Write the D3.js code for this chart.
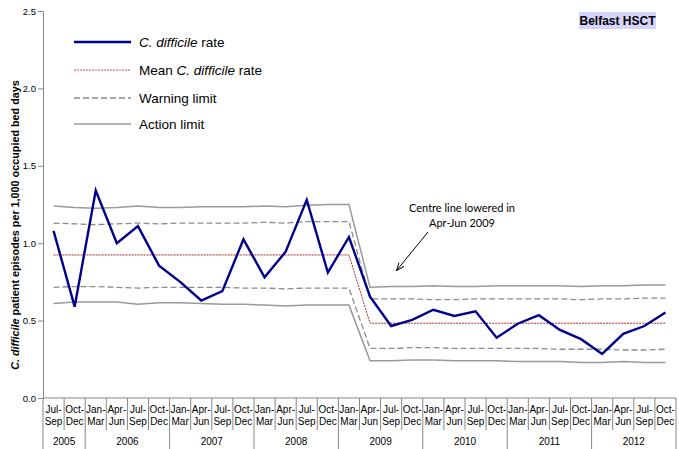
<!DOCTYPE html>
<html>
<head>
<meta charset="utf-8">
<script src="https://cdn.jsdelivr.net/npm/d3@7"></script>
<style>
  body { margin: 0; background: #fff; }
  svg { display: block; font-family: "Liberation Sans", Arial, sans-serif; }
</style>
</head>
<body>
<svg id="chart" width="679" height="449"></svg>
<script>
// ---------------- data ----------------
const quarterTop    = ["Jul-","Oct-","Jan-","Apr-","Jul-","Oct-","Jan-","Apr-","Jul-","Oct-","Jan-","Apr-","Jul-","Oct-","Jan-","Apr-","Jul-","Oct-","Jan-","Apr-","Jul-","Oct-","Jan-","Apr-","Jul-","Oct-","Jan-","Apr-","Jul-","Oct-"];
const quarterBottom = ["Sep","Dec","Mar","Jun","Sep","Dec","Mar","Jun","Sep","Dec","Mar","Jun","Sep","Dec","Mar","Jun","Sep","Dec","Mar","Jun","Sep","Dec","Mar","Jun","Sep","Dec","Mar","Jun","Sep","Dec"];
const years      = ["2005","2006","2007","2008","2009","2010","2011","2012"];
const yearCounts = [2,4,4,4,4,4,4,4];

const rate = [1.08,0.59,1.34,1.00,1.11,0.855,0.75,0.63,0.69,1.025,0.78,0.945,1.28,0.81,1.04,
              0.655,0.465,0.505,0.57,0.53,0.56,0.39,0.48,0.535,0.44,0.38,0.285,0.415,0.465,0.553];
const meanRate = [0.924,0.924,0.924,0.924,0.924,0.924,0.924,0.924,0.924,0.924,0.924,0.924,0.924,0.924,0.924,
                  0.483,0.483,0.483,0.483,0.483,0.483,0.483,0.483,0.483,0.483,0.483,0.483,0.483,0.483,0.483];
const warnUpper = [1.13,1.125,1.12,1.125,1.13,1.125,1.13,1.13,1.13,1.13,1.135,1.13,1.14,1.14,1.14,
                   0.64,0.64,0.64,0.635,0.635,0.64,0.64,0.64,0.64,0.64,0.635,0.64,0.64,0.645,0.645];
const warnLower = [0.715,0.72,0.72,0.715,0.71,0.715,0.715,0.715,0.715,0.71,0.71,0.705,0.71,0.71,0.71,
                   0.32,0.32,0.325,0.325,0.32,0.32,0.32,0.32,0.32,0.315,0.315,0.315,0.31,0.31,0.315];
const actUpper  = [1.24,1.23,1.225,1.23,1.24,1.23,1.23,1.235,1.235,1.235,1.24,1.235,1.245,1.25,1.25,
                   0.715,0.72,0.72,0.725,0.72,0.72,0.725,0.725,0.725,0.725,0.72,0.725,0.725,0.73,0.73];
const actLower  = [0.61,0.62,0.62,0.62,0.605,0.615,0.615,0.61,0.605,0.605,0.60,0.595,0.60,0.60,0.60,
                   0.24,0.24,0.245,0.245,0.24,0.24,0.24,0.235,0.235,0.235,0.23,0.23,0.235,0.23,0.23];
const yTicks = [0.0,0.5,1.0,1.5,2.0,2.5];

// ---------------- layout ----------------
const svg = d3.select("#chart");
const plotLeft = 43, plotRight = 676, plotTop = 11, plotBottom = 398;
const idx = d3.range(rate.length);
const x = d3.scaleBand().domain(idx).range([plotLeft, plotRight]).paddingInner(0).paddingOuter(0);
const y = d3.scaleLinear().domain([0, 2.5]).range([plotBottom, plotTop]);
const cx = i => x(i) + x.bandwidth() / 2;
const axisColor = "#868686";

// y axis
const yAxis = d3.axisLeft(y).tickValues(yTicks).tickFormat(d3.format(".1f")).tickSize(5).tickSizeOuter(0);
const gy = svg.append("g").attr("transform", `translate(${plotLeft},0)`).call(yAxis);
gy.select(".domain").attr("stroke", axisColor);
gy.selectAll(".tick line").attr("stroke", axisColor);
gy.selectAll(".tick text").attr("font-size", 9.5).attr("fill", "#000").attr("font-family", "Liberation Sans, Arial, sans-serif").attr("x", -7);

// x axis line
svg.append("line").attr("x1", plotLeft).attr("x2", plotRight).attr("y1", plotBottom).attr("y2", plotBottom)
  .attr("stroke", axisColor);

// quarter separators
const yearStarts = [];
let acc = 0;
yearCounts.forEach(c => { yearStarts.push(acc); acc += c; });
idx.forEach(i => {
  const isYear = yearStarts.includes(i);
  svg.append("line").attr("x1", x(i)).attr("x2", x(i)).attr("y1", plotBottom).attr("y2", isYear ? 449 : 430)
    .attr("stroke", axisColor);
});
svg.append("line").attr("x1", plotRight).attr("x2", plotRight).attr("y1", plotBottom).attr("y2", 449).attr("stroke", axisColor);

// quarter labels
const ql = svg.append("g").attr("font-size", 10).attr("text-anchor", "middle").attr("fill", "#000");
idx.forEach(i => {
  ql.append("text").attr("x", cx(i)).attr("y", 413).text(quarterTop[i]);
  ql.append("text").attr("x", cx(i)).attr("y", 425).text(quarterBottom[i]);
});
// year labels
years.forEach((yr, k) => {
  const s = yearStarts[k], e = s + yearCounts[k] - 1;
  const mid = (x(s) + x(e) + x.bandwidth()) / 2;
  svg.append("text").attr("x", mid).attr("y", 445).attr("font-size", 10).attr("text-anchor", "middle").text(yr);
});

// y axis title
const yt = svg.append("text").attr("transform", "translate(19,225) rotate(-90)")
  .attr("text-anchor", "middle").attr("font-size", 10.8).attr("font-weight", "bold");
yt.append("tspan").attr("font-style", "italic").text("C. difficile");
yt.append("tspan").text(" patient episodes per 1,000 occupied bed days");

// ---------------- lines ----------------
const line = arr => d3.line().x((d, i) => cx(i)).y(d => y(d))(arr);

svg.append("path").attr("d", line(actUpper)).attr("fill", "none").attr("stroke", "#9a9a9a").attr("stroke-width", 1.5);
svg.append("path").attr("d", line(actLower)).attr("fill", "none").attr("stroke", "#9a9a9a").attr("stroke-width", 1.5);
svg.append("path").attr("d", line(warnUpper)).attr("fill", "none").attr("stroke", "#8c8c8c").attr("stroke-width", 1.3).attr("stroke-dasharray", "6,3");
svg.append("path").attr("d", line(warnLower)).attr("fill", "none").attr("stroke", "#8c8c8c").attr("stroke-width", 1.3).attr("stroke-dasharray", "6,3");
svg.append("path").attr("d", line(meanRate)).attr("fill", "none").attr("stroke", "#a52a2a").attr("stroke-width", 1).attr("stroke-dasharray", "2,1");
svg.append("path").attr("d", line(rate)).attr("fill", "none").attr("stroke", "#00008b").attr("stroke-width", 2.4).attr("stroke-linejoin", "miter");

// ---------------- legend ----------------
const lg = svg.append("g").attr("font-size", 13.5).attr("fill", "#000");
const legendItems = [
  {y: 42, stroke: "#00008b", w: 2.4, dash: null, parts: [["C. difficile", true], [" rate", false]]},
  {y: 70, stroke: "#c0504d", w: 1, dash: "2,1", parts: [["Mean ", false], ["C. difficile", true], [" rate", false]]},
  {y: 98, stroke: "#8c8c8c", w: 1.3, dash: "6,3", parts: [["Warning limit", false]]},
  {y: 124, stroke: "#9a9a9a", w: 1.5, dash: null, parts: [["Action limit", false]]}
];
legendItems.forEach(it => {
  lg.append("line").attr("x1", 74).attr("x2", 131).attr("y1", it.y).attr("y2", it.y)
    .attr("stroke", it.stroke).attr("stroke-width", it.w).attr("stroke-dasharray", it.dash);
  const t = lg.append("text").attr("x", 139).attr("y", it.y + 5);
  it.parts.forEach(p => t.append("tspan").attr("font-style", p[1] ? "italic" : "normal").text(p[0]));
});

// ---------------- trust label ----------------
svg.append("rect").attr("x", 579).attr("y", 12).attr("width", 77).attr("height", 17).attr("fill", "#d4d4fc");
svg.append("text").attr("x", 617.5).attr("y", 25).attr("text-anchor", "middle")
  .attr("font-size", 12).attr("font-weight", "bold").text("Belfast HSCT");

// ---------------- annotation ----------------
const ann = svg.append("text").attr("font-family", "Lato, sans-serif").attr("font-size", 11).attr("text-anchor", "middle");
ann.append("tspan").attr("x", 462).attr("y", 212).text("Centre line lowered in");
ann.append("tspan").attr("x", 462).attr("y", 227).text("Apr-Jun 2009");
svg.append("defs").append("marker").attr("id", "arr").attr("viewBox", "0 0 10 10").attr("refX", 9).attr("refY", 5)
  .attr("markerWidth", 8).attr("markerHeight", 8).attr("orient", "auto")
  .append("path").attr("d", "M0,1 L10,5 L0,9").attr("fill", "none").attr("stroke", "#000").attr("stroke-width", 1.2);
svg.append("line").attr("x1", 428).attr("y1", 232).attr("x2", 397).attr("y2", 270)
  .attr("stroke", "#000").attr("stroke-width", 1).attr("marker-end", "url(#arr)");
</script>
</body>
</html>
